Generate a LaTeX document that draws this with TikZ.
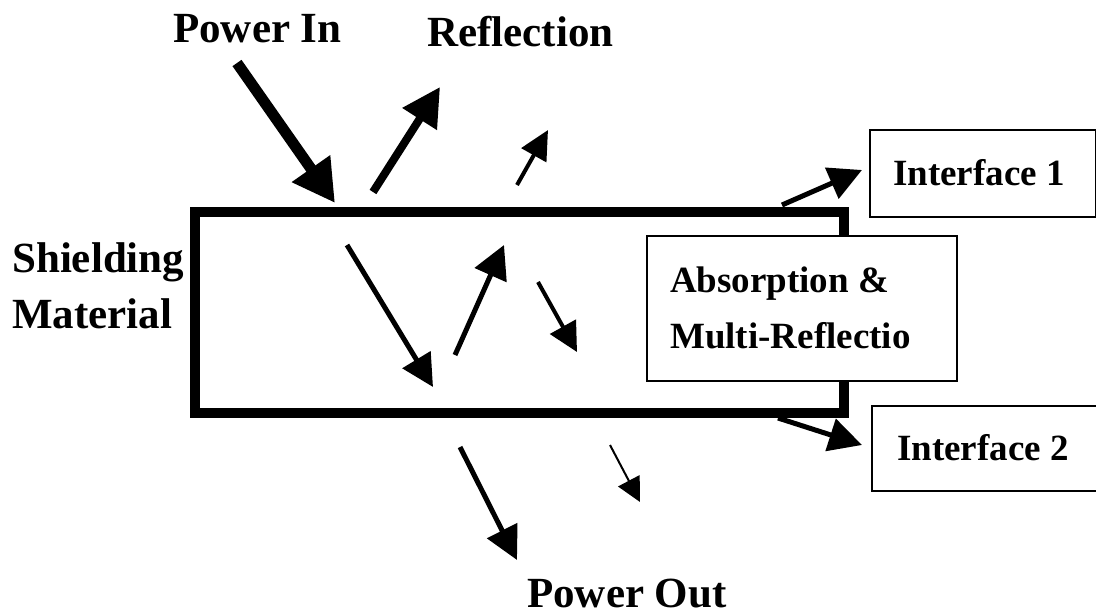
\documentclass[tikz,border=0pt]{standalone}
\usepackage{fontspec}
\setmainfont{Liberation Serif}
\usetikzlibrary{arrows.meta}
\tikzset{
  big/.style={font=\bfseries\fontsize{43}{56}\selectfont, inner sep=0pt, anchor=base west},
  mid/.style={font=\bfseries\fontsize{37}{56}\selectfont, inner sep=0pt, anchor=base west},
  frame/.style={draw=black, line width=2pt, fill=white},
}
\begin{document}
\begin{tikzpicture}[x=1pt,y=-1pt]
\useasboundingbox (0,0) rectangle (1096,616);
% shielding material slab
\draw[line width=10pt] (195,211.5) rectangle (844,413);
% boxes
\node[frame, minimum width=310pt, minimum height=145pt, anchor=north west] (abs) at (646,235) {};
\node[frame, minimum width=226pt, minimum height=87pt, anchor=north west] (if1) at (869,129) {};
\node[frame, minimum width=240pt, minimum height=85pt, anchor=north west] (if2) at (871,405) {};
% texts
\node[big] (pin) at (173,42) {Power In};
\node[big] (refl) at (427,46) {Reflection};
\node[big] (sh) at (12,272) {Shielding};
\node[big] (mat) at (12,328) {Material};
\node[big] (pout) at (527,607) {Power Out};
\node[mid] (abs1) at (670,292) {Absorption \&};
\node[mid] (abs2) at (670,348) {Multi-Reflectio};
\node[mid] (if1t) at (893,185) {Interface 1};
\node[mid] (if2t) at (897,460) {Interface 2};
% arrow end points
\coordinate (a1s) at (237,63);  \coordinate (a1e) at (335,203);
\coordinate (a2s) at (373,192); \coordinate (a2e) at (440,87);
\coordinate (a3s) at (517,185); \coordinate (a3e) at (548,130);
\coordinate (a4s) at (782,205); \coordinate (a4e) at (862,170);
\coordinate (a5s) at (778,418); \coordinate (a5e) at (862,445);
\coordinate (a6s) at (347,245); \coordinate (a6e) at (433,387);
\coordinate (a7s) at (455,355); \coordinate (a7e) at (504,245);
\coordinate (a8s) at (538,282); \coordinate (a8e) at (577,352);
\coordinate (a9s) at (460,447); \coordinate (a9e) at (517,560);
\coordinate (a10s) at (610,445); \coordinate (a10e) at (640,502);
% arrows
\draw[line width=11pt, -{Triangle[length=42pt 0 0,width=44pt 0 0]}] (a1s) -- (a1e);
\draw[line width=8pt, -{Triangle[length=38pt 0 0,width=39pt 0 0]}] (a2s) -- (a2e);
\draw[line width=4pt, -{Triangle[length=29pt 0 0,width=28pt 0 0]}] (a3s) -- (a3e);
\draw[line width=5pt, -{Triangle[length=33pt 0 0,width=33pt 0 0]}] (a4s) -- (a4e);
\draw[line width=5pt, -{Triangle[length=33pt 0 0,width=33pt 0 0]}] (a5s) -- (a5e);
\draw[line width=5pt, -{Triangle[length=32pt 0 0,width=32pt 0 0]}] (a6s) -- (a6e);
\draw[line width=5pt, -{Triangle[length=33pt 0 0,width=34pt 0 0]}] (a7s) -- (a7e);
\draw[line width=4pt, -{Triangle[length=29pt 0 0,width=29pt 0 0]}] (a8s) -- (a8e);
\draw[line width=5pt, -{Triangle[length=33pt 0 0,width=33pt 0 0]}] (a9s) -- (a9e);
\draw[line width=2pt, -{Triangle[length=24pt 0 0,width=24pt 0 0]}] (a10s) -- (a10e);
\end{tikzpicture}
\end{document}
